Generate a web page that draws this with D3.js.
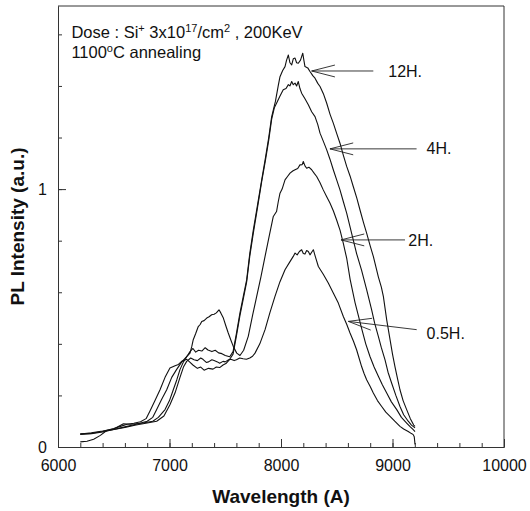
<!DOCTYPE html>
<html>
<head>
<meta charset="utf-8">
<script src="https://cdn.jsdelivr.net/npm/d3@7"></script>
<style>
  body { margin: 0; background: #fff; }
  svg { font-family: "Liberation Sans", Arial, sans-serif; }
</style>
</head>
<body>
<svg id="chart"></svg>
<script>
// PL spectra, values (wavelength in A, intensity a.u.)
var h12 = [[6200,0.05],[6300,0.052],[6400,0.058],[6500,0.068],[6600,0.078],[6700,0.088],[6800,0.10],[6850,0.115],[6885,0.145],[6930,0.185],[6975,0.222],[7020,0.27],[7063,0.30],[7110,0.33],[7154,0.35],[7184,0.37],[7210,0.382],[7235,0.368],[7260,0.375],[7290,0.372],[7320,0.385],[7345,0.376],[7380,0.37],[7410,0.375],[7440,0.365],[7470,0.362],[7500,0.355],[7540,0.35],[7570,0.37],[7600,0.44],[7632,0.52],[7660,0.58],[7692,0.648],[7720,0.75],[7752,0.842],[7790,0.94],[7827,1.036],[7860,1.12],[7890,1.2],[7916,1.28],[7950,1.34],[7975,1.40],[7991,1.436],[8015,1.46],[8036,1.475],[8050,1.50],[8066,1.52],[8080,1.49],[8096,1.482],[8110,1.505],[8126,1.508],[8140,1.49],[8155,1.488],[8175,1.50],[8195,1.527],[8205,1.50],[8215,1.475],[8240,1.47],[8260,1.456],[8285,1.44],[8305,1.43],[8330,1.41],[8350,1.398],[8380,1.37],[8410,1.333],[8440,1.29],[8469,1.256],[8500,1.215],[8529,1.178],[8560,1.13],[8589,1.088],[8620,1.05],[8648,1.01],[8680,0.965],[8708,0.92],[8740,0.87],[8768,0.829],[8800,0.78],[8828,0.739],[8850,0.70],[8873,0.66],[8900,0.62],[8918,0.584],[8948,0.493],[8978,0.416],[9000,0.36],[9022,0.312],[9045,0.265],[9067,0.222],[9095,0.18],[9127,0.145],[9160,0.11],[9190,0.085],[9202,0.08]]

var h4 = [[6200,0.02],[6260,0.022],[6320,0.03],[6380,0.045],[6440,0.065],[6500,0.072],[6560,0.08],[6620,0.088],[6680,0.092],[6740,0.098],[6790,0.11],[6825,0.14],[6870,0.18],[6915,0.222],[6960,0.27],[7004,0.306],[7050,0.315],[7080,0.32],[7109,0.332],[7154,0.34],[7180,0.33],[7210,0.318],[7250,0.305],[7280,0.31],[7310,0.298],[7350,0.305],[7390,0.302],[7420,0.31],[7450,0.308],[7480,0.318],[7510,0.325],[7540,0.34],[7570,0.36],[7600,0.43],[7632,0.51],[7660,0.57],[7692,0.64],[7720,0.74],[7752,0.83],[7790,0.93],[7827,1.03],[7860,1.11],[7890,1.19],[7916,1.27],[7940,1.315],[7960,1.333],[7990,1.36],[8020,1.385],[8045,1.39],[8066,1.405],[8080,1.40],[8096,1.417],[8110,1.405],[8126,1.411],[8140,1.40],[8155,1.417],[8170,1.39],[8185,1.372],[8215,1.35],[8245,1.327],[8275,1.30],[8305,1.281],[8330,1.25],[8350,1.217],[8380,1.185],[8410,1.152],[8440,1.115],[8469,1.075],[8500,1.035],[8529,0.997],[8560,0.95],[8589,0.907],[8633,0.829],[8678,0.75],[8723,0.685],[8768,0.61],[8813,0.532],[8840,0.48],[8873,0.429],[8900,0.385],[8933,0.338],[8960,0.29],[8992,0.248],[9030,0.20],[9067,0.157],[9100,0.125],[9141,0.10],[9170,0.085],[9202,0.074]]

var h2 = [[6200,0.05],[6300,0.055],[6400,0.062],[6500,0.07],[6587,0.09],[6650,0.088],[6750,0.092],[6850,0.10],[6900,0.115],[6960,0.145],[7000,0.18],[7034,0.222],[7065,0.26],[7094,0.30],[7125,0.33],[7154,0.35],[7184,0.364],[7200,0.39],[7213,0.416],[7235,0.44],[7258,0.467],[7275,0.475],[7289,0.487],[7310,0.49],[7334,0.50],[7355,0.505],[7378,0.513],[7400,0.515],[7420,0.52],[7444,0.532],[7460,0.52],[7483,0.50],[7505,0.47],[7527,0.442],[7550,0.415],[7572,0.39],[7603,0.364],[7632,0.355],[7665,0.375],[7707,0.43],[7745,0.51],[7782,0.584],[7820,0.66],[7857,0.739],[7895,0.82],[7931,0.894],[7960,0.913],[7975,0.95],[7991,0.984],[8010,1.0],[8036,1.036],[8060,1.05],[8081,1.062],[8105,1.07],[8126,1.075],[8150,1.08],[8170,1.094],[8190,1.095],[8200,1.107],[8215,1.09],[8230,1.081],[8250,1.085],[8275,1.075],[8300,1.06],[8320,1.049],[8350,1.025],[8379,0.997],[8410,0.97],[8439,0.946],[8470,0.915],[8499,0.88],[8530,0.84],[8559,0.79],[8590,0.73],[8620,0.65],[8664,0.56],[8723,0.46],[8760,0.40],[8798,0.351],[8835,0.31],[8873,0.274],[8910,0.24],[8948,0.209],[8990,0.175],[9038,0.145],[9080,0.115],[9127,0.093],[9160,0.078],[9186,0.067],[9202,0.06]]

var h05 = [[6200,0.05],[6300,0.053],[6400,0.06],[6500,0.068],[6600,0.076],[6700,0.085],[6800,0.093],[6885,0.10],[6950,0.12],[7004,0.164],[7050,0.21],[7094,0.27],[7125,0.31],[7154,0.332],[7190,0.345],[7220,0.338],[7250,0.335],[7280,0.345],[7300,0.34],[7330,0.328],[7350,0.33],[7380,0.338],[7400,0.335],[7430,0.33],[7450,0.325],[7480,0.332],[7500,0.33],[7530,0.338],[7550,0.34],[7580,0.335],[7600,0.338],[7630,0.345],[7660,0.342],[7690,0.34],[7720,0.345],[7745,0.352],[7767,0.364],[7810,0.40],[7857,0.455],[7900,0.52],[7946,0.584],[7990,0.64],[8036,0.687],[8075,0.715],[8110,0.739],[8126,0.752],[8145,0.745],[8165,0.758],[8185,0.765],[8200,0.75],[8215,0.748],[8230,0.762],[8245,0.758],[8260,0.745],[8275,0.755],[8290,0.765],[8310,0.735],[8335,0.70],[8379,0.67],[8424,0.636],[8469,0.597],[8514,0.558],[8559,0.506],[8590,0.475],[8619,0.442],[8650,0.41],[8678,0.377],[8700,0.345],[8723,0.312],[8745,0.285],[8768,0.261],[8800,0.235],[8828,0.209],[8865,0.18],[8903,0.157],[8940,0.135],[8978,0.119],[9020,0.10],[9067,0.08],[9100,0.07],[9141,0.06],[9170,0.052],[9186,0.048],[9195,0.04],[9202,0.01]]

// curve labels and their arrows (tip on the curve, tail at the label)
var labels = ["12H.", "4H.", "2H.", "0.5H."]
var arrowTip = [[8275,1.458],[8439,1.156],[8538,0.803],[8604,0.487]]
var arrowTail = [[8828,1.458],[9216,1.156],[9112,0.803],[9217,0.455]]
var labelAt = [[8962,1.458],[9306,1.156],[9142,0.803],[9306,0.442]]

var xMajor = [6000, 7000, 8000, 9000, 10000]
var xMinor = d3.range(6000, 10001, 200)
var yMajor = [0, 1]
var yMinor = [0, 0.2, 0.4, 0.6, 0.8, 1, 1.2, 1.4, 1.6]

//Set the size and select the svg.
var width = 530
var height = 511
var margin = {top: 6, right: 26, bottom: 64, left: 58}
var svg = d3.select("#chart").attr("width", width).attr("height", height)

var x = d3.scaleLinear().domain([6000, 10000]).range([margin.left, width - margin.right])
var y = d3.scaleLinear().domain([0, 1.71]).range([height - margin.bottom, margin.top])

//frame (top and right edges)
svg.append("path")
  .attr("d", "M" + x(6000) + "," + y(1.71) + "H" + x(10000) + "V" + y(0))
  .attr("fill", "none").attr("stroke", "#333").attr("stroke-width", 1)

//axes: minor ticks first, then labelled majors, ticks point inwards
svg.append("g").attr("transform", "translate(0," + y(0) + ")")
  .call(d3.axisBottom(x).tickValues(xMinor).tickSizeInner(-4).tickSizeOuter(0).tickFormat(""))
svg.append("g").attr("transform", "translate(0," + y(0) + ")")
  .call(d3.axisBottom(x).tickValues(xMajor).tickSizeInner(-8).tickSizeOuter(0).tickPadding(13).tickFormat(d3.format("d")))
svg.append("g").attr("transform", "translate(" + x(6000) + ",0)")
  .call(d3.axisLeft(y).tickValues(yMinor).tickSizeInner(-4).tickSizeOuter(0).tickFormat(""))
svg.append("g").attr("transform", "translate(" + x(6000) + ",0)")
  .call(d3.axisLeft(y).tickValues(yMajor).tickSizeInner(-8).tickSizeOuter(0).tickPadding(11).tickFormat(d3.format("d")))

svg.selectAll(".domain, .tick line").attr("stroke", "#333")
svg.selectAll(".tick text").attr("font-size", 16).attr("fill", "#111")
  .attr("font-family", "'Liberation Sans', Arial, sans-serif")

//axis titles
svg.append("text")
  .attr("x", x(8000)).attr("y", 503)
  .attr("text-anchor", "middle").attr("font-size", 19).attr("font-weight", "bold").attr("fill", "#111")
  .text("Wavelength (A)")
svg.append("text")
  .attr("transform", "translate(23.5," + y(0.855) + ") rotate(-90)")
  .attr("text-anchor", "middle").attr("font-size", 19).attr("font-weight", "bold").attr("fill", "#111")
  .text("PL Intensity (a.u.)")

//the spectra
var line = d3.line().x(d => x(d[0])).y(d => y(d[1]))
svg.append("g")
  .selectAll("path")
  .data([h12, h4, h2, h05])
  .enter()
  .append("path")
  .attr("d", line)
  .attr("fill", "none")
  .attr("stroke", "#111")
  .attr("stroke-width", 1.1)
  .attr("stroke-linejoin", "round")

//arrows pointing at each curve
var arrows = svg.append("g").attr("stroke", "#222").attr("stroke-width", 0.9).attr("fill", "none")
labels.forEach(function(lab, i) {
  var tx = x(arrowTip[i][0]), ty = y(arrowTip[i][1])
  var ex = x(arrowTail[i][0]), ey = y(arrowTail[i][1])
  var a = Math.atan2(ey - ty, ex - tx)
  arrows.append("line").attr("x1", tx).attr("y1", ty).attr("x2", ex).attr("y2", ey)
  ;[-0.25, 0.25].forEach(function(s) {
    arrows.append("line").attr("x1", tx).attr("y1", ty)
      .attr("x2", tx + 24 * Math.cos(a + s)).attr("y2", ty + 24 * Math.sin(a + s))
  })
  svg.append("text")
    .attr("x", x(labelAt[i][0])).attr("y", y(labelAt[i][1]))
    .attr("dy", "0.35em").attr("font-size", 16).attr("fill", "#111")
    .text(lab)
})

//sample conditions
var note = svg.append("text").attr("x", x(6120)).attr("y", y(1.585)).attr("font-size", 16.5).attr("fill", "#111")
note.append("tspan").text("Dose : Si")
note.append("tspan").attr("dy", -6).attr("font-size", 11).text("+")
note.append("tspan").attr("dy", 6).text(" 3x10")
note.append("tspan").attr("dy", -6).attr("font-size", 11).text("17")
note.append("tspan").attr("dy", 6).text("/cm")
note.append("tspan").attr("dy", -6).attr("font-size", 11).text("2")
note.append("tspan").attr("dy", 6).text(" , 200KeV")

var note2 = svg.append("text").attr("x", x(6120)).attr("y", y(1.509)).attr("font-size", 16.5).attr("fill", "#111")
note2.append("tspan").text("1100")
note2.append("tspan").attr("dy", -6).attr("font-size", 11).text("o")
note2.append("tspan").attr("dy", 6).text("C annealing")
</script>
</body>
</html>
